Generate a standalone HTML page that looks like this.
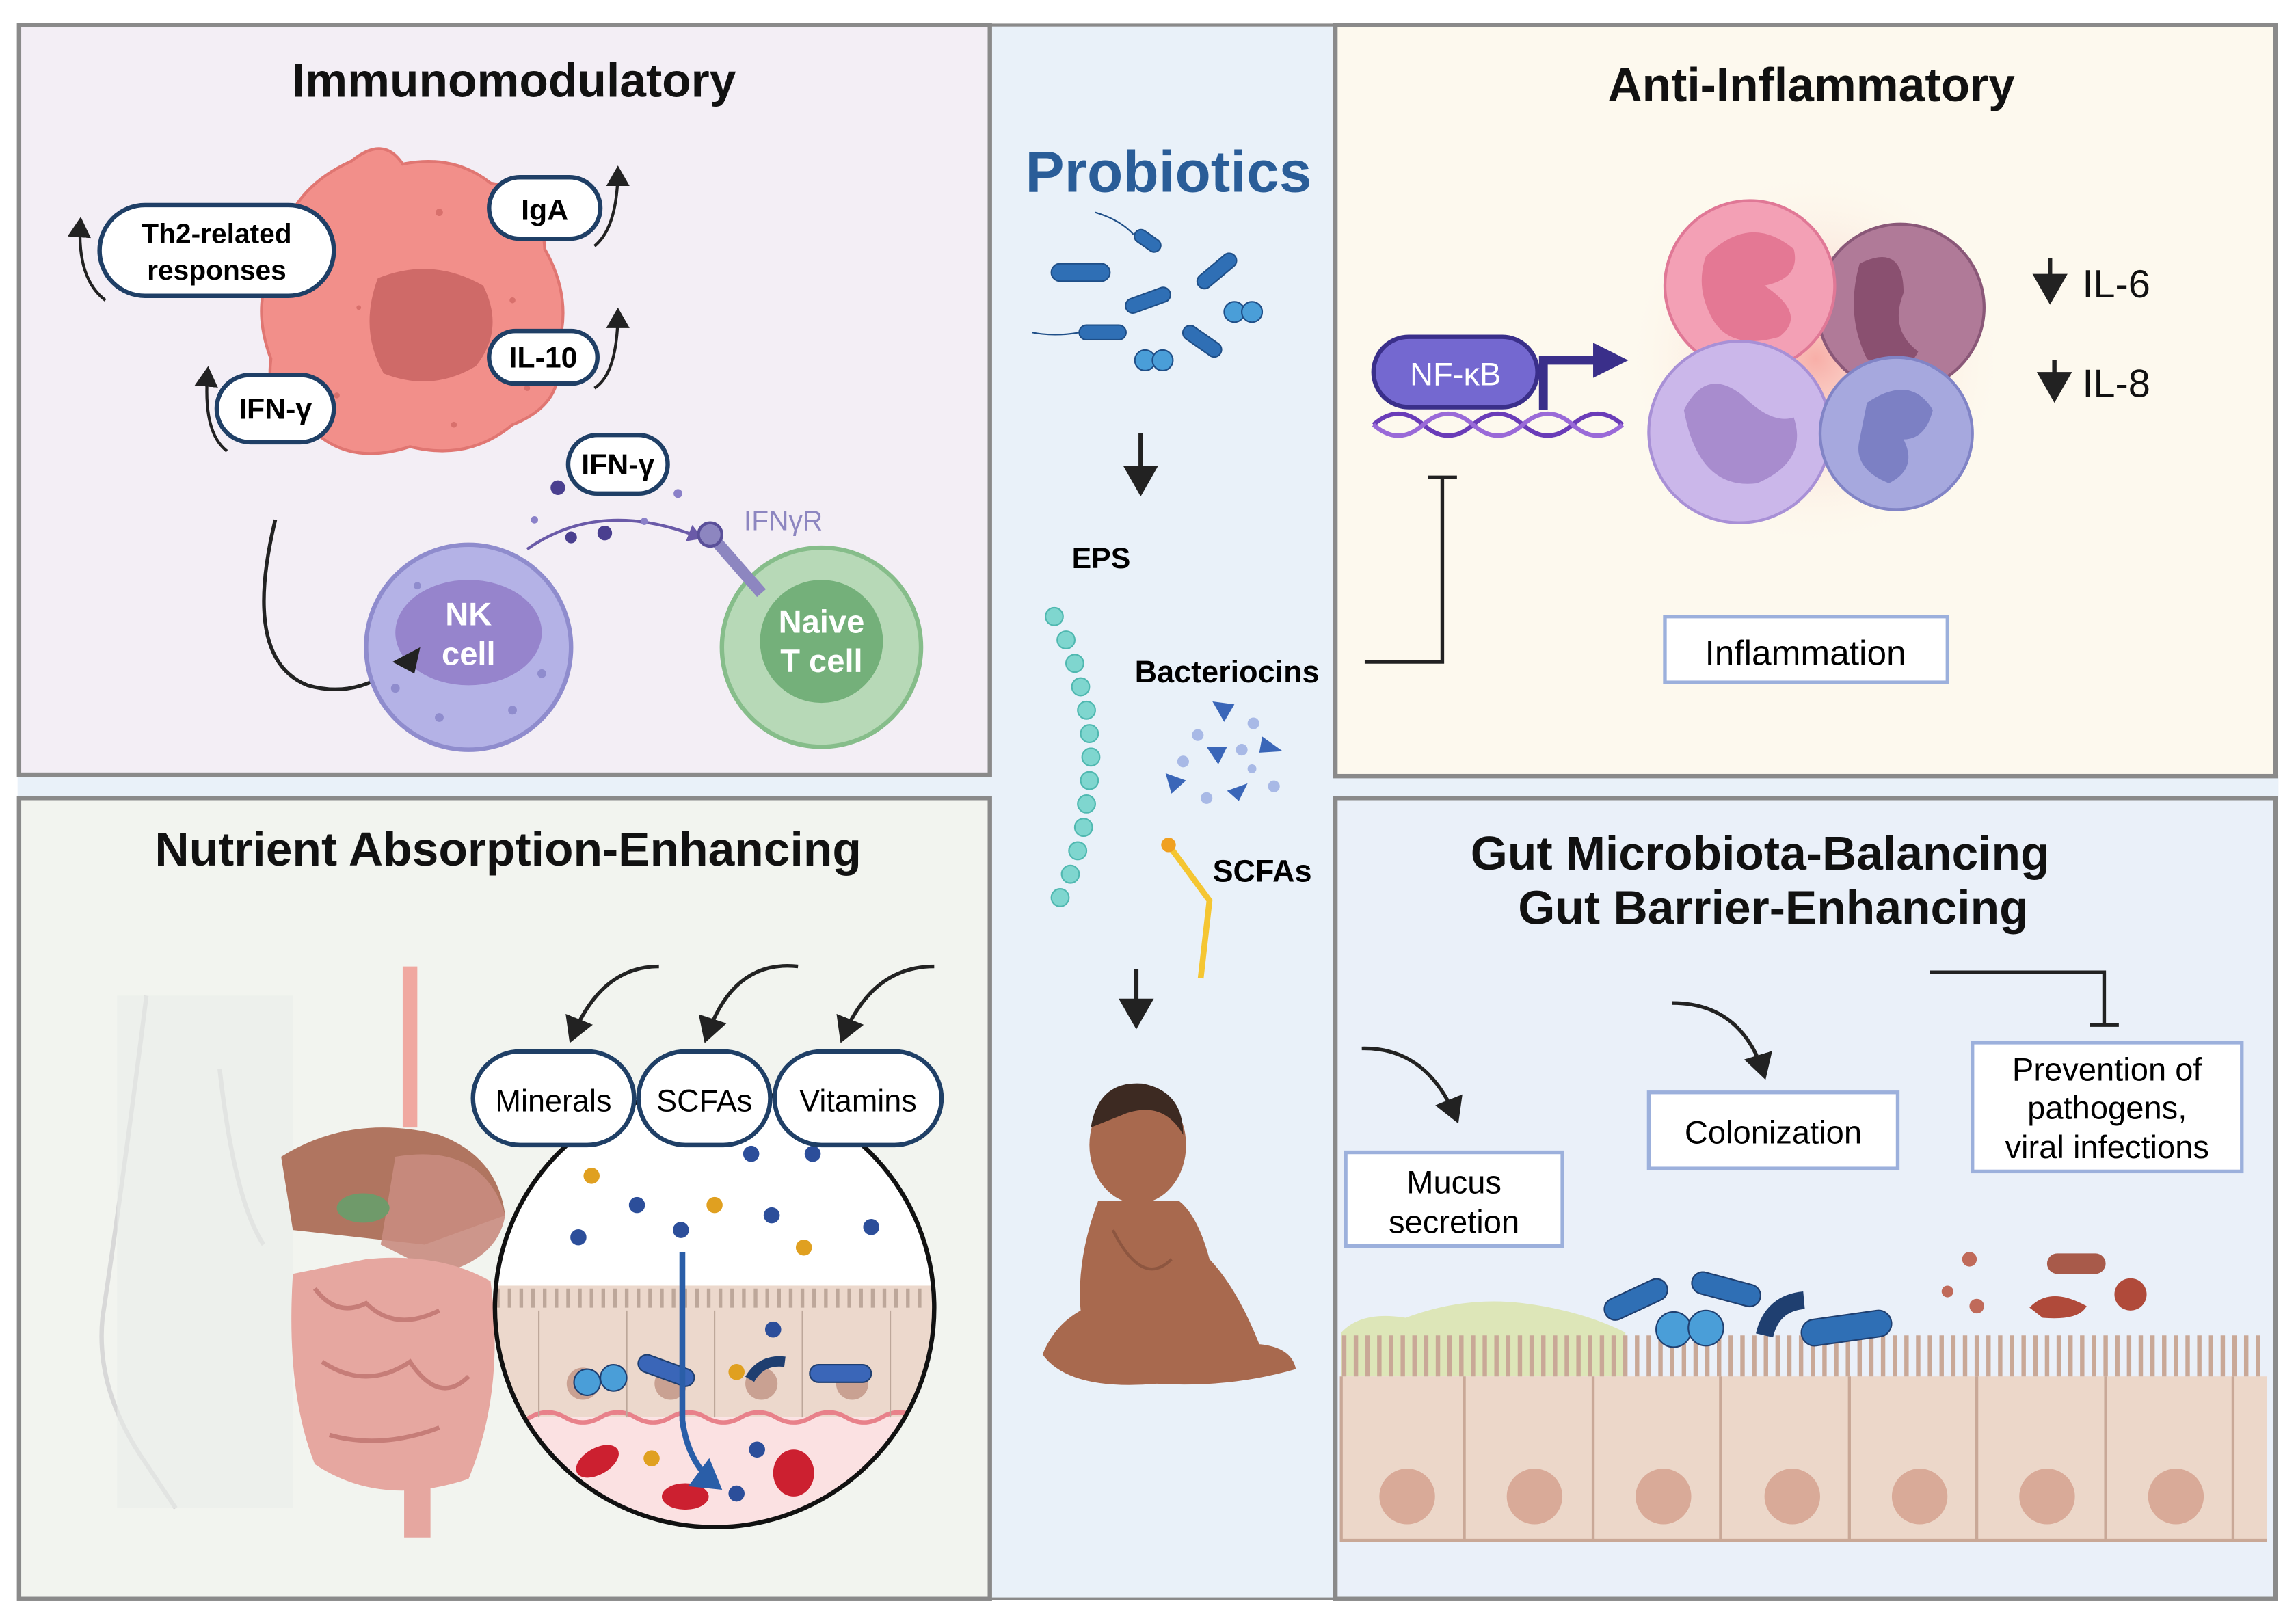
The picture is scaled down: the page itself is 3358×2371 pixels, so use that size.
<!DOCTYPE html>
<html><head><meta charset="utf-8"><style>
html,body{margin:0;padding:0;background:#fff}
svg{display:block}
text{font-family:"Liberation Sans",Arial,sans-serif}
</style></head><body>
<svg width="3358" height="2371" viewBox="0 0 1568 1107" xmlns="http://www.w3.org/2000/svg">
<defs>
<marker id="ah" markerWidth="8" markerHeight="8" refX="6" refY="4" orient="auto" markerUnits="strokeWidth"><path d="M0,0 L7,4 L0,8 Z" fill="#222"/></marker>
<marker id="ahb" markerWidth="6" markerHeight="6" refX="4" refY="3" orient="auto"><path d="M0,0 L5,3 L0,6 Z" fill="#2a5ea8"/></marker>
<marker id="ahp" markerWidth="6" markerHeight="6" refX="4" refY="3" orient="auto"><path d="M0,0 L5,3 L0,6 Z" fill="#6a5aa8"/></marker>
<radialGradient id="glow"><stop offset="0" stop-color="#f7a6a0" stop-opacity="0.9"/><stop offset="1" stop-color="#fdf9ee" stop-opacity="0"/></radialGradient>
<clipPath id="circ"><circle cx="488" cy="893" r="150"/></clipPath>
</defs>
<rect width="1568" height="1107" fill="#fff"/>
<rect x="676" y="17" width="236" height="1075" fill="#e9f1f9" stroke="#8a8a8a" stroke-width="2"/>
<rect x="12" y="529" width="1544" height="17" fill="#e9f1f9"/>
<rect x="13" y="17" width="663" height="512" fill="#f3eef5" stroke="#8a8a8a" stroke-width="3"/>
<rect x="13" y="545" width="663" height="547" fill="#f2f4ef" stroke="#8a8a8a" stroke-width="3"/>
<rect x="912" y="17" width="642" height="513" fill="#fdf9ee" stroke="#8a8a8a" stroke-width="3"/>
<rect x="912" y="545" width="642" height="547" fill="#eaf0f9" stroke="#8a8a8a" stroke-width="3"/>

<text x="351" y="66" font-size="32.5" font-weight="bold" text-anchor="middle" fill="#111">Immunomodulatory</text>
<text x="1237" y="69" font-size="32.5" font-weight="bold" text-anchor="middle" fill="#111">Anti-Inflammatory</text>
<text x="347" y="591" font-size="32.5" font-weight="bold" text-anchor="middle" fill="#111">Nutrient Absorption-Enhancing</text>
<text x="1202" y="594" font-size="32.5" font-weight="bold" text-anchor="middle" fill="#111">Gut Microbiota-Balancing</text>
<text x="1211" y="631" font-size="32.5" font-weight="bold" text-anchor="middle" fill="#111">Gut Barrier-Enhancing</text>
<text x="798" y="131" font-size="40" font-weight="bold" text-anchor="middle" fill="#2a5d98">Probiotics</text>

<path d="M240,110 Q262,92 275,112 Q310,105 335,125 Q370,130 372,170 Q392,205 380,240 Q388,275 350,290 Q320,315 280,305 Q240,318 215,295 Q180,285 185,245 Q170,205 190,175 Q195,130 240,110 Z" fill="#f28f8a" stroke="#e07672" stroke-width="2"/>
<path d="M258,190 Q295,175 330,195 Q345,225 325,250 Q295,268 262,255 Q245,225 258,190 Z" fill="#cf6a68"/>
<g fill="#d8706c"><circle cx="215" cy="150" r="2"/><circle cx="300" cy="145" r="2.5"/><circle cx="350" cy="205" r="2"/><circle cx="230" cy="270" r="2"/><circle cx="310" cy="290" r="2"/><circle cx="245" cy="210" r="1.6"/><circle cx="360" cy="265" r="2"/></g>
<g stroke="#1f3f66" stroke-width="3" fill="#fff">
<rect x="68" y="140" width="160" height="62" rx="31"/>
<rect x="334" y="121" width="76" height="42" rx="21"/>
<rect x="334" y="226" width="74" height="36" rx="18"/>
<rect x="148" y="256" width="80" height="46" rx="23"/>
<rect x="388" y="297" width="68" height="40" rx="20"/>
</g>
<text x="148" y="166" font-size="19" font-weight="bold" text-anchor="middle">Th2-related</text>
<text x="148" y="191" font-size="19" font-weight="bold" text-anchor="middle">responses</text>
<text x="372" y="150" font-size="20" font-weight="bold" text-anchor="middle">IgA</text>
<text x="371" y="251" font-size="20" font-weight="bold" text-anchor="middle">IL-10</text>
<text x="188" y="286" font-size="20" font-weight="bold" text-anchor="middle">IFN-γ</text>
<text x="422" y="324" font-size="20" font-weight="bold" text-anchor="middle">IFN-γ</text>
<g fill="none" stroke="#222" stroke-width="2">
<path d="M72,205 Q52,190 55,150" marker-end="url(#ah)"/>
<path d="M406,168 Q422,155 422,115" marker-end="url(#ah)"/>
<path d="M406,265 Q422,255 422,212" marker-end="url(#ah)"/>
<path d="M155,308 Q138,295 142,252" marker-end="url(#ah)"/>
<path d="M188,355 Q165,450 210,468 Q245,478 275,452" stroke-width="2.5"/>
</g>
<circle cx="320" cy="442" r="70" fill="#b4b2e6" stroke="#8f8ccd" stroke-width="3"/>
<ellipse cx="320" cy="432" rx="50" ry="36" fill="#9684cc"/>
<g fill="#8f8ccd"><circle cx="270" cy="470" r="3"/><circle cx="300" cy="490" r="3"/><circle cx="350" cy="485" r="3"/><circle cx="370" cy="460" r="3"/><circle cx="285" cy="400" r="2.5"/></g>
<path d="M287,442 L283,460 L268,452 Z" fill="#222"/>
<text x="320" y="427" font-size="22" font-weight="bold" text-anchor="middle" fill="#fff">NK</text>
<text x="320" y="454" font-size="22" font-weight="bold" text-anchor="middle" fill="#fff">cell</text>
<circle cx="561" cy="442" r="68" fill="#b7d9b7" stroke="#86bd8a" stroke-width="3"/>
<circle cx="561" cy="438" r="42" fill="#74b07a"/>
<text x="561" y="432" font-size="22" font-weight="bold" text-anchor="middle" fill="#fff">Naive</text>
<text x="561" y="459" font-size="22" font-weight="bold" text-anchor="middle" fill="#fff">T cell</text>
<path d="M360,375 Q410,340 478,367" fill="none" stroke="#6a5aa8" stroke-width="2" marker-end="url(#ahp)"/>
<g fill="#4a3f8f"><circle cx="381" cy="333" r="5"/><circle cx="413" cy="364" r="5"/><circle cx="390" cy="367" r="4"/><circle cx="463" cy="337" r="3" fill="#8a80c8"/><circle cx="365" cy="355" r="2.5" fill="#8a80c8"/><circle cx="440" cy="356" r="2.5" fill="#8a80c8"/></g>
<path d="M485,365 L520,405" stroke="#8d86c0" stroke-width="8"/>
<circle cx="485" cy="365" r="8" fill="#8d86c0" stroke="#5a4f99" stroke-width="2"/>
<text x="508" y="362" font-size="19" fill="#8d86c0">IFNγR</text>

<g fill="#2f6fb5" stroke="#1f4f88" stroke-width="1">
<rect x="718" y="180" width="40" height="12" rx="6"/>
<rect x="774" y="160" width="20" height="9" rx="4.5" transform="rotate(35 784 164)"/>
<rect x="768" y="200" width="32" height="10" rx="5" transform="rotate(-20 784 205)"/>
<rect x="815" y="180" width="32" height="10" rx="5" transform="rotate(-40 831 185)"/>
<rect x="737" y="222" width="32" height="10" rx="5"/>
<rect x="806" y="228" width="30" height="10" rx="5" transform="rotate(35 821 233)"/>
<circle cx="843" cy="213" r="7" fill="#4a9ed8"/><circle cx="855" cy="213" r="7" fill="#4a9ed8"/>
<circle cx="782" cy="246" r="7" fill="#4a9ed8"/><circle cx="794" cy="246" r="7" fill="#4a9ed8"/>
</g>
<path d="M705,227 Q720,230 737,227" stroke="#1f4f88" fill="none"/>
<path d="M774,160 Q765,150 748,145" stroke="#1f4f88" fill="none"/>
<g stroke="#222" stroke-width="3">
<line x1="779" y1="296" x2="779" y2="336" marker-end="url(#ah)"/>
<line x1="776" y1="662" x2="776" y2="700" marker-end="url(#ah)"/>
</g>
<text x="752" y="388" font-size="20" font-weight="bold" text-anchor="middle">EPS</text>
<text x="838" y="466" font-size="21" font-weight="bold" text-anchor="middle">Bacteriocins</text>
<text x="862" y="602" font-size="21" font-weight="bold" text-anchor="middle">SCFAs</text>
<g fill="#7fd6cf" stroke="#4fb8b0" stroke-width="1">
<circle cx="720" cy="421" r="6"/><circle cx="728" cy="437" r="6"/><circle cx="734" cy="453" r="6"/><circle cx="738" cy="469" r="6"/><circle cx="742" cy="485" r="6"/><circle cx="744" cy="501" r="6"/><circle cx="745" cy="517" r="6"/><circle cx="744" cy="533" r="6"/><circle cx="742" cy="549" r="6"/><circle cx="740" cy="565" r="6"/><circle cx="736" cy="581" r="6"/><circle cx="731" cy="597" r="6"/><circle cx="724" cy="613" r="6"/>
</g>
<g fill="#3a66b8"><path d="M828,479 L843,481 L836,493 Z"/><path d="M862,503 L876,513 L860,514 Z"/><path d="M824,510 L838,510 L832,522 Z"/><path d="M796,528 L810,533 L800,542 Z"/><path d="M838,540 L852,535 L846,547 Z"/></g>
<g fill="#a8b9e6"><circle cx="818" cy="502" r="4"/><circle cx="856" cy="494" r="4"/><circle cx="848" cy="512" r="4"/><circle cx="808" cy="520" r="4"/><circle cx="824" cy="545" r="4"/><circle cx="870" cy="537" r="4"/><circle cx="855" cy="525" r="3"/></g>
<path d="M798,577 L826,615 L820,668" fill="none" stroke="#f5c632" stroke-width="4"/>
<circle cx="798" cy="577" r="5" fill="#f0a020"/>
<g fill="#a8694e">
<ellipse cx="777" cy="782" rx="33" ry="40"/>
<path d="M750,820 Q735,860 738,895 Q720,905 712,925 Q730,950 790,945 Q840,948 885,935 Q882,920 860,918 Q845,880 826,860 Q818,830 805,820 Z"/>
</g>
<path d="M745,770 Q750,738 780,740 Q808,745 808,775 Q795,752 770,760 Z" fill="#3d2a22"/>
<path d="M760,840 Q780,880 800,860" stroke="#8d5640" fill="none" stroke-width="2"/>

<circle cx="1240" cy="245" r="130" fill="url(#glow)"/>
<circle cx="1298" cy="210" r="57" fill="#b07a98" stroke="#8a5878" stroke-width="2"/>
<path d="M1270,180 Q1300,165 1300,200 Q1290,225 1310,240 Q1300,260 1275,245 Q1260,215 1270,180 Z" fill="#8a5070"/>
<circle cx="1195" cy="195" r="58" fill="#f3a0b5" stroke="#e07896" stroke-width="2"/>
<path d="M1165,175 Q1195,145 1225,170 Q1230,190 1205,195 Q1235,215 1215,230 Q1180,240 1168,215 Q1158,195 1165,175 Z" fill="#e47894"/>
<circle cx="1188" cy="295" r="62" fill="#cbb7ea" stroke="#a890d6" stroke-width="2"/>
<path d="M1150,280 Q1165,250 1190,270 Q1210,290 1225,285 Q1235,315 1200,330 Q1160,335 1150,280 Z" fill="#a88cce"/>
<circle cx="1295" cy="296" r="52" fill="#a6a8de" stroke="#8184c6" stroke-width="2"/>
<path d="M1275,275 Q1305,255 1320,280 Q1315,300 1300,300 Q1310,320 1290,330 Q1265,320 1270,300 Z" fill="#7c80c4"/>
<rect x="938" y="230" width="112" height="48" rx="24" fill="#7468d0" stroke="#3a2f8a" stroke-width="3"/>
<text x="994" y="263" font-size="22" text-anchor="middle" fill="#fff">NF-κB</text>
<path d="M938,290 Q955,275 972,290 T1006,290 T1040,290 T1074,290 T1108,290" fill="none" stroke="#6a3cb8" stroke-width="3"/>
<path d="M938,290 Q955,305 972,290 T1006,290 T1040,290 T1074,290 T1108,290" fill="none" stroke="#9a6ad8" stroke-width="3"/>
<path d="M1054,280 L1054,246 L1090,246" fill="none" stroke="#3a2f8a" stroke-width="6"/>
<path d="M1088,234 L1112,246 L1088,258 Z" fill="#3a2f8a"/>
<path d="M932,452 L985,452 L985,326 M975,326 L995,326" fill="none" stroke="#222" stroke-width="2.5"/>
<g stroke="#222" stroke-width="3"><line x1="1400" y1="176" x2="1400" y2="205" marker-end="url(#ah)"/><line x1="1403" y1="246" x2="1403" y2="272" marker-end="url(#ah)"/></g>
<text x="1422" y="203" font-size="27" fill="#111">IL-6</text>
<text x="1422" y="271" font-size="27" fill="#111">IL-8</text>
<rect x="1137" y="421" width="193" height="45" fill="#fff" stroke="#9cb0dc" stroke-width="2.5"/>
<text x="1233" y="454" font-size="24" text-anchor="middle">Inflammation</text>

<path d="M100,680 Q85,800 70,900 Q65,950 100,1000 L120,1030 M150,730 Q160,820 180,850" fill="none" stroke="#d8d8d8" stroke-width="3"/>
<rect x="80" y="680" width="120" height="350" fill="#eaecea" opacity="0.6"/>
<path d="M280,660 L280,770" stroke="#f0a8a0" stroke-width="10" fill="none"/>
<path d="M192,790 Q240,760 300,775 Q340,790 345,830 L290,850 L200,840 Z" fill="#b07560"/>
<path d="M270,790 Q330,780 345,830 Q340,860 300,870 L260,850 Z" fill="#c98c80" opacity=".9"/>
<ellipse cx="248" cy="825" rx="18" ry="10" fill="#6f9a6a"/>
<path d="M200,870 Q195,950 215,1000 Q260,1030 320,1010 Q345,950 335,875 Q300,855 250,860 Z" fill="#e6a7a0"/>
<path d="M215,880 Q230,900 250,890 Q270,910 300,895 M220,930 Q250,950 280,930 Q300,960 320,940 M225,980 Q260,990 300,975" stroke="#c67d78" fill="none" stroke-width="3"/>
<path d="M285,1010 L285,1050" stroke="#e6a7a0" stroke-width="18"/>
<circle cx="488" cy="893" r="150" fill="#fff"/>
<g clip-path="url(#circ)">
<rect x="338" y="878" width="300" height="90" fill="#ecd8cc"/>
<rect x="338" y="968" width="300" height="90" fill="#fbe1e2"/>
<path d="M338,968 Q350,975 362,968 T386,968 T410,968 T434,968 T458,968 T482,968 T506,968 T530,968 T554,968 T578,968 T602,968 T626,968 T650,968" stroke="#e8818a" stroke-width="3" fill="none"/>
<g stroke="#bda79a" stroke-width="1"><line x1="368" y1="895" x2="368" y2="968"/><line x1="428" y1="895" x2="428" y2="968"/><line x1="488" y1="895" x2="488" y2="968"/><line x1="548" y1="895" x2="548" y2="968"/><line x1="608" y1="895" x2="608" y2="968"/></g>
<path d="M340,880 L340,893 M348,880 L348,893 M356,880 L356,893 M364,880 L364,893 M372,880 L372,893 M380,880 L380,893 M388,880 L388,893 M396,880 L396,893 M404,880 L404,893 M412,880 L412,893 M420,880 L420,893 M428,880 L428,893 M436,880 L436,893 M444,880 L444,893 M452,880 L452,893 M460,880 L460,893 M468,880 L468,893 M476,880 L476,893 M484,880 L484,893 M492,880 L492,893 M500,880 L500,893 M508,880 L508,893 M516,880 L516,893 M524,880 L524,893 M532,880 L532,893 M540,880 L540,893 M548,880 L548,893 M556,880 L556,893 M564,880 L564,893 M572,880 L572,893 M580,880 L580,893 M588,880 L588,893 M596,880 L596,893 M604,880 L604,893 M612,880 L612,893 M620,880 L620,893 M628,880 L628,893" stroke="#bda79a" stroke-width="2.5"/>
<g fill="#c9a192"><circle cx="398" cy="945" r="11"/><circle cx="458" cy="945" r="11"/><circle cx="520" cy="945" r="11"/><circle cx="582" cy="945" r="11"/></g>
<g fill="#cc2030"><ellipse cx="408" cy="998" rx="16" ry="9" transform="rotate(-30 408 998)"/><ellipse cx="468" cy="1022" rx="16" ry="9"/><ellipse cx="542" cy="1006" rx="14" ry="16"/></g>
</g>
<circle cx="488" cy="893" r="150" fill="none" stroke="#111" stroke-width="3"/>
<g fill="#2c4e9a"><circle cx="513" cy="788" r="5.5"/><circle cx="555" cy="788" r="5.5"/><circle cx="435" cy="823" r="5.5"/><circle cx="527" cy="830" r="5.5"/><circle cx="395" cy="845" r="5.5"/><circle cx="465" cy="840" r="5.5"/><circle cx="595" cy="838" r="5.5"/><circle cx="528" cy="908" r="5.5"/><circle cx="517" cy="990" r="5.5"/><circle cx="503" cy="1020" r="5.5"/></g>
<g fill="#e0a020"><circle cx="404" cy="803" r="5.5"/><circle cx="488" cy="823" r="5.5"/><circle cx="549" cy="852" r="5.5"/><circle cx="503" cy="937" r="5.5"/><circle cx="445" cy="996" r="5.5"/></g>
<g fill="#3a66b8" stroke="#1f3f70"><circle cx="401" cy="944" r="9" fill="#4a9ed8"/><circle cx="419" cy="941" r="9" fill="#4a9ed8"/><rect x="435" y="930" width="40" height="12" rx="6" transform="rotate(20 455 936)"/><rect x="553" y="932" width="42" height="12" rx="6"/><path d="M512,942 Q520,928 536,930" stroke="#1f3f70" stroke-width="7" fill="none"/></g>
<path d="M466,855 L466,970 Q470,1000 490,1015" fill="none" stroke="#2a5ea8" stroke-width="4" marker-end="url(#ahb)"/>
<g fill="none" stroke="#222" stroke-width="2.5">
<path d="M450,660 Q410,660 390,710" marker-end="url(#ah)"/>
<path d="M545,660 Q500,655 482,710" marker-end="url(#ah)"/>
<path d="M638,660 Q595,660 575,710" marker-end="url(#ah)"/>
</g>
<g stroke="#1f3f66" stroke-width="3" fill="#fff">
<rect x="323" y="718" width="110" height="64" rx="32"/>
<rect x="436" y="718" width="90" height="64" rx="32"/>
<rect x="529" y="718" width="114" height="64" rx="32"/>
</g>
<text x="378" y="759" font-size="21" text-anchor="middle">Minerals</text>
<text x="481" y="759" font-size="21" text-anchor="middle">SCFAs</text>
<text x="586" y="759" font-size="21" text-anchor="middle">Vitamins</text>

<path d="M916,910 Q930,895 960,900 Q1000,885 1040,890 Q1080,895 1110,910 L1110,940 L916,940 Z" fill="#dde6b8"/>
<rect x="916" y="940" width="632" height="112" fill="#ecd7c9"/>
<g fill="none" stroke="#c9a897" stroke-width="2">
<path d="M916,940 L916,1052 L1548,1052"/>
<line x1="1000" y1="940" x2="1000" y2="1052"/><line x1="1088" y1="940" x2="1088" y2="1052"/><line x1="1175" y1="940" x2="1175" y2="1052"/><line x1="1263" y1="940" x2="1263" y2="1052"/><line x1="1350" y1="940" x2="1350" y2="1052"/><line x1="1438" y1="940" x2="1438" y2="1052"/><line x1="1525" y1="940" x2="1525" y2="1052"/>
</g>
<path d="M918,912 L918,940 M926,912 L926,940 M934,912 L934,940 M942,912 L942,940 M950,912 L950,940 M958,912 L958,940 M966,912 L966,940 M974,912 L974,940 M982,912 L982,940 M990,912 L990,940 M998,912 L998,940 M1006,912 L1006,940 M1014,912 L1014,940 M1022,912 L1022,940 M1030,912 L1030,940 M1038,912 L1038,940 M1046,912 L1046,940 M1054,912 L1054,940 M1062,912 L1062,940 M1070,912 L1070,940 M1078,912 L1078,940 M1086,912 L1086,940 M1094,912 L1094,940 M1102,912 L1102,940 M1110,912 L1110,940 M1118,912 L1118,940 M1126,912 L1126,940 M1134,912 L1134,940 M1142,912 L1142,940 M1150,912 L1150,940 M1158,912 L1158,940 M1166,912 L1166,940 M1174,912 L1174,940 M1182,912 L1182,940 M1190,912 L1190,940 M1198,912 L1198,940 M1206,912 L1206,940 M1214,912 L1214,940 M1222,912 L1222,940 M1230,912 L1230,940 M1238,912 L1238,940 M1246,912 L1246,940 M1254,912 L1254,940 M1262,912 L1262,940 M1270,912 L1270,940 M1278,912 L1278,940 M1286,912 L1286,940 M1294,912 L1294,940 M1302,912 L1302,940 M1310,912 L1310,940 M1318,912 L1318,940 M1326,912 L1326,940 M1334,912 L1334,940 M1342,912 L1342,940 M1350,912 L1350,940 M1358,912 L1358,940 M1366,912 L1366,940 M1374,912 L1374,940 M1382,912 L1382,940 M1390,912 L1390,940 M1398,912 L1398,940 M1406,912 L1406,940 M1414,912 L1414,940 M1422,912 L1422,940 M1430,912 L1430,940 M1438,912 L1438,940 M1446,912 L1446,940 M1454,912 L1454,940 M1462,912 L1462,940 M1470,912 L1470,940 M1478,912 L1478,940 M1486,912 L1486,940 M1494,912 L1494,940 M1502,912 L1502,940 M1510,912 L1510,940 M1518,912 L1518,940 M1526,912 L1526,940 M1534,912 L1534,940 M1542,912 L1542,940" stroke="#c9a897" stroke-width="3"/>
<g fill="#d9aa98"><circle cx="961" cy="1022" r="19"/><circle cx="1048" cy="1022" r="19"/><circle cx="1136" cy="1022" r="19"/><circle cx="1224" cy="1022" r="19"/><circle cx="1311" cy="1022" r="19"/><circle cx="1398" cy="1022" r="19"/><circle cx="1486" cy="1022" r="19"/></g>
<g fill="#2f6fb5" stroke="#1f3f70">
<rect x="1094" y="880" width="46" height="15" rx="7.5" transform="rotate(-25 1117 887)"/>
<rect x="1155" y="873" width="48" height="15" rx="7.5" transform="rotate(15 1179 880)"/>
<rect x="1230" y="898" width="62" height="18" rx="9" transform="rotate(-8 1261 907)"/>
<circle cx="1143" cy="908" r="12" fill="#4a9ed8"/><circle cx="1165" cy="907" r="12" fill="#4a9ed8"/>
<path d="M1205,912 Q1210,890 1232,888" stroke="#1f3f70" stroke-width="12" fill="none"/>
</g>
<g fill="#b04a3a"><rect x="1398" y="856" width="40" height="14" rx="7" fill="#a85a4a"/><path d="M1386,893 Q1400,878 1425,892 Q1420,902 1395,900 Z"/><circle cx="1455" cy="884" r="11"/><circle cx="1345" cy="860" r="5" fill="#c06a5a"/><circle cx="1330" cy="882" r="4" fill="#c06a5a"/><circle cx="1350" cy="892" r="5" fill="#c06a5a"/></g>
<g fill="none" stroke="#222" stroke-width="2.5">
<path d="M930,716 Q975,715 995,765" marker-end="url(#ah)"/>
<path d="M1142,685 Q1190,685 1205,735" marker-end="url(#ah)"/>
<path d="M1318,664 L1437,664 L1437,700 M1427,700 L1447,700"/>
</g>
<g fill="#fff" stroke="#9cb0dc" stroke-width="2.5">
<rect x="919" y="787" width="148" height="64"/>
<rect x="1126" y="746" width="170" height="52"/>
<rect x="1347" y="712" width="184" height="88"/>
</g>
<text x="993" y="815" font-size="22" text-anchor="middle">Mucus</text>
<text x="993" y="842" font-size="22" text-anchor="middle">secretion</text>
<text x="1211" y="781" font-size="22" text-anchor="middle">Colonization</text>
<text x="1439" y="738" font-size="22" text-anchor="middle">Prevention of</text>
<text x="1439" y="764" font-size="22" text-anchor="middle">pathogens,</text>
<text x="1439" y="791" font-size="22" text-anchor="middle">viral infections</text>
</svg>
</body></html>
